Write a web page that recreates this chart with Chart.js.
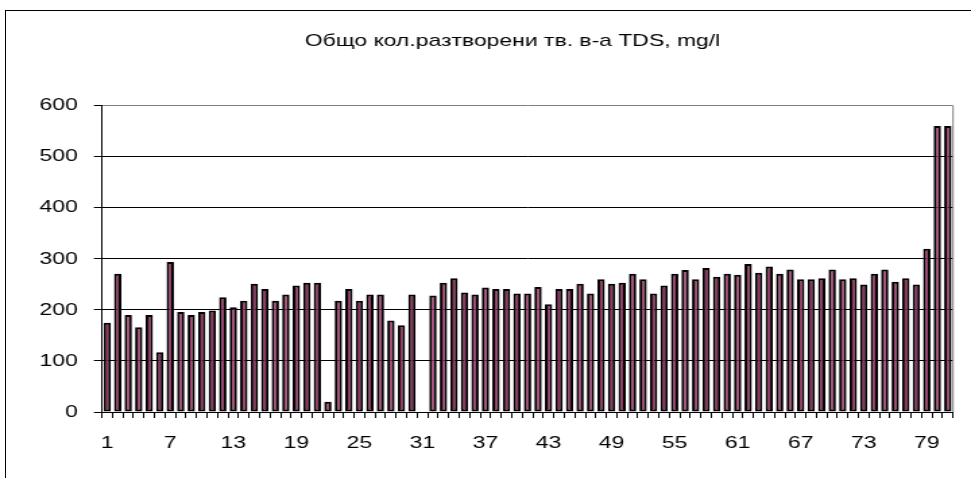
<!DOCTYPE html>
<html>
<head>
<meta charset="utf-8">
<script src="https://cdn.jsdelivr.net/npm/chart.js@4.4.1/dist/chart.umd.min.js"></script>
<style>
  html, body { margin: 0; padding: 0; background: #ffffff; }
  #wrap { position: relative; width: 971px; height: 478px; overflow: hidden; }
  #frame { position: absolute; left: 5px; top: 10px; width: 1000px; height: 500px;
           border-left: 1px solid #000; border-top: 1px solid #000; }
  #c { position: absolute; left: 0; top: 0; width: 971px; height: 478px; }
</style>
</head>
<body>
<div id="wrap">
  <div id="frame"></div>
  <canvas id="c" width="720" height="478" style="width:971px;height:478px;"></canvas>
</div>
<script>
// ---- data ----
const titleText = "Общо кол.разтворени тв. в-а TDS, mg/l";
const categories = [];
for (let i = 1; i <= 81; i++) categories.push(String(i));
const tdsValues = [
  175, 271, 190, 166, 190, 117, 294, 196, 190, 196,
  199, 225, 205, 218, 251, 241, 218, 230, 248, 253,
  253, 20, 218, 241, 218, 230, 230, 179, 170, 230,
  null, 228, 253, 262, 234, 230, 244, 241, 241, 232,
  232, 245, 211, 241, 241, 251, 232, 260, 251, 253,
  271, 260, 232, 248, 271, 278, 260, 282, 265, 271,
  269, 290, 273, 285, 271, 279, 260, 260, 262, 279,
  260, 262, 250, 271, 279, 255, 262, 250, 320, 560,
  560
];
const yMin = 0, yMax = 600, yStep = 100;
const labelEvery = 6;

const fontFamily = "'Liberation Sans', Arial, sans-serif";

const plotBorder = {
  id: 'plotBorder',
  afterLayout(chart) {
    if (chart.titleBlock) {
      chart.titleBlock.left = 53.3;
      chart.titleBlock.right = chart.chartArea.right;
    }
  },
  beforeDatasetsDraw(chart) {
    const a = chart.chartArea, ctx = chart.ctx;
    ctx.save();
    ctx.strokeStyle = '#808080';
    ctx.lineWidth = 1;
    ctx.beginPath();
    ctx.moveTo(a.right, a.top);
    ctx.lineTo(a.right, a.bottom);
    ctx.stroke();
    ctx.restore();
  }
};

new Chart(document.getElementById('c'), {
  type: 'bar',
  data: {
    labels: categories,
    datasets: [{
      data: tdsValues,
      backgroundColor: '#993366',
      borderColor: '#000000',
      borderWidth: 2,
      borderSkipped: false,
      categoryPercentage: 1.0,
      barPercentage: 0.7
    }]
  },
  options: {
    responsive: false,
    animation: false,
    devicePixelRatio: 1,
    layout: { padding: { left: 0, right: 13.3, top: 0, bottom: 0 } },
    plugins: {
      legend: { display: false },
      tooltip: { enabled: false },
      title: {
        display: true,
        text: titleText,
        color: '#000',
        font: { family: fontFamily, size: 17, weight: 'normal' },
        padding: { top: 31, bottom: 54.3 }
      }
    },
    scales: {
      x: {
        afterFit(s) { s.height = 66; },
        grid: {
          display: true,
          drawOnChartArea: false,
          drawTicks: true,
          tickLength: 6,
          tickColor: '#000',
          offset: true
        },
        border: { display: true, color: '#000', width: 1 },
        ticks: {
          autoSkip: false,
          maxRotation: 0,
          minRotation: 0,
          padding: 15,
          color: '#000',
          font: { family: fontFamily, size: 17 },
          callback(v, i) { return i % labelEvery === 0 ? categories[i] : ''; }
        }
      },
      y: {
        min: yMin,
        max: yMax,
        afterFit(s) { s.width = 75.6; },
        grid: {
          color(ctx) { return ctx.tick && ctx.tick.value === yMax ? '#808080' : '#000'; },
          lineWidth: 1,
          drawTicks: true,
          tickLength: 6,
          tickColor: '#000'
        },
        border: { display: true, color: '#000', width: 1 },
        ticks: {
          stepSize: yStep,
          padding: 12,
          color: '#000',
          font: { family: fontFamily, size: 17 }
        }
      }
    }
  },
  plugins: [plotBorder]
});
</script>
</body>
</html>
